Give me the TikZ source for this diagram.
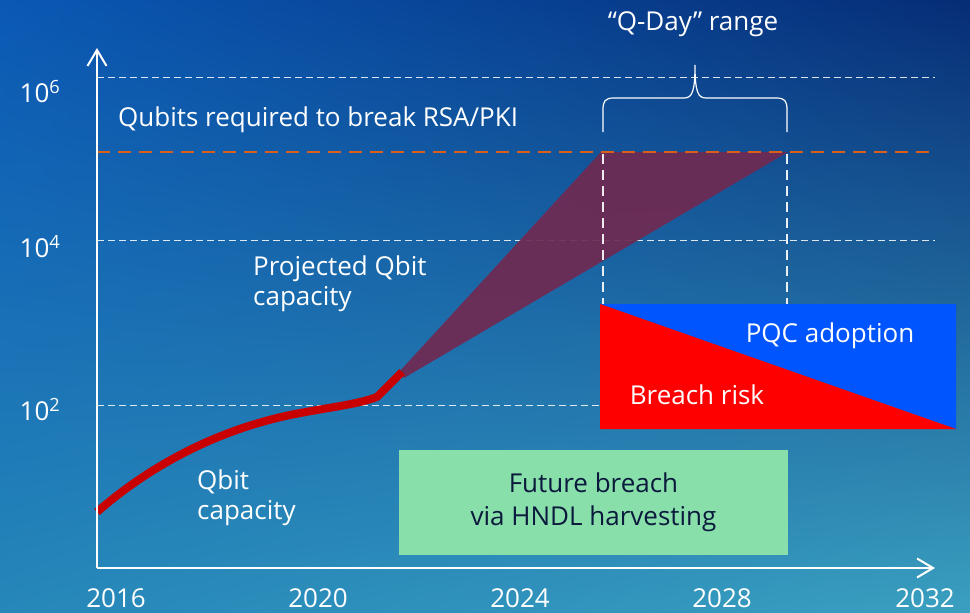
\documentclass[tikz,border=0pt]{standalone}
\usepackage{fontspec}
\setmainfont{Open Sans}
\usetikzlibrary{arrows.meta,shadings}
\definecolor{bgUL}{RGB}{10,88,180}
\definecolor{bgUR}{RGB}{6,45,118}
\definecolor{bgLL}{RGB}{38,135,185}
\definecolor{bgLR}{RGB}{58,160,192}
\definecolor{curvered}{RGB}{200,0,0}
\definecolor{conecol}{RGB}{112,42,82}
\definecolor{orangeline}{RGB}{220,95,25}
\definecolor{pqcblue}{RGB}{0,85,255}
\definecolor{riskred}{RGB}{255,0,0}
\definecolor{hndlgreen}{RGB}{136,223,170}
\definecolor{navytext}{RGB}{10,25,60}
\begin{document}
\begin{tikzpicture}[x=1pt,y=-1pt,
  lbl/.style={text=white,font=\fontsize{26}{30}\selectfont,inner sep=0pt},
  yr/.style={lbl,anchor=center},
  grid/.style={white,opacity=0.85,line width=0.9pt,dash pattern=on 7pt off 4pt},
  vdash/.style={white,opacity=0.9,line width=2pt,dash pattern=on 10pt off 6pt},
  axis/.style={white,line width=2pt,-{Straight Barb[length=16pt,width=19pt,line width=2pt]}},
  boxtext/.style={text=white,font=\fontsize{26}{30}\selectfont,inner sep=0pt}]
% background
\shade[upper left=bgUL,upper right=bgUR,lower left=bgLL,lower right=bgLR] (0,0) rectangle (970,613);
\useasboundingbox (0,0) rectangle (970,613);

% coordinates
\coordinate (origin) at (97,568);
\coordinate (ytop) at (97,48);
\coordinate (xend) at (935,568);
\coordinate (g6a) at (97,77);   \coordinate (g6b) at (935,77);
\coordinate (g4a) at (97,240);  \coordinate (g4b) at (935,240);
\coordinate (g2a) at (97,405);  \coordinate (g2b) at (935,405);
\coordinate (oa) at (97,152);   \coordinate (ob) at (935,152);

% grid lines
\draw[grid] (g6a) -- (g6b);
\draw[grid] (g4a) -- (g4b);
\draw[grid] (g2a) -- (g2b);

% cone
\coordinate (apex) at (399,372);
\coordinate (coneL) at (601,152);
\coordinate (coneR) at (788,152);
\fill[conecol,opacity=0.92] (apex) -- (coneL) -- (coneR) -- (404,378) -- cycle;

% orange threshold line
\draw[orangeline,line width=2.2pt,dash pattern=on 13pt off 8pt] (oa) -- (ob);

% vertical dashed lines
\coordinate (vLt) at (603,154); \coordinate (vLb) at (603,304);
\coordinate (vRt) at (787,154); \coordinate (vRb) at (787,304);
\draw[vdash] (vLt) -- (vLb);
\draw[vdash] (vRt) -- (vRb);

% brace
\draw[white,line width=1.2pt]
  (603,132) -- (603,110) .. controls (603,101) and (605,98) .. (614,98)
  -- (684,98) .. controls (692,98) and (695,92) .. (695,65)
  .. controls (695,92) and (698,98) .. (706,98)
  -- (776,98) .. controls (785,98) and (787,101) .. (787,110) -- (787,132);

% PQC / breach box
\coordinate (bTL) at (600,304); \coordinate (bTR) at (956,304);
\coordinate (bBL) at (600,429); \coordinate (bBR) at (956,429);
\fill[pqcblue] (bTL) -- (bTR) -- (bBR) -- cycle;
\fill[riskred] (bTL) -- (bBR) -- (bBL) -- cycle;
\node[boxtext] (pqc) at (830,336) {PQC adoption};
\node[boxtext] (risk) at (697,395) {Breach risk};

% green HNDL box
\node[fill=hndlgreen,minimum width=389pt,minimum height=105pt,inner sep=0pt,
      align=center,text=navytext,font=\fontsize{26}{33}\selectfont] (hndl) at (593.5,502)
      {Future breach\\via HNDL harvesting};

% red curve
\draw[curvered,line width=8pt,line join=round]
  (97,512) .. controls (145,470) and (210,432) .. (290,415)
  .. controls (330,407) and (355,405) .. (377,397) -- (402,372);

% axes
\draw[axis] (origin) -- (ytop);
\draw[axis] (origin) -- (xend);

% y labels
\node[lbl] (l6) at (40,92) {10\textsuperscript{6}};
\node[lbl] (l4) at (40,247) {10\textsuperscript{4}};
\node[lbl] (l2) at (40,410) {10\textsuperscript{2}};

% x labels
\node[yr] (y16) at (116,598) {2016};
\node[yr] (y20) at (318,598) {2020};
\node[yr] (y24) at (520,598) {2024};
\node[yr] (y28) at (722,598) {2028};
\node[yr] (y32) at (925,598) {2032};

% text labels
\node[lbl,anchor=west] (qreq) at (118,120) {Qubits required to break RSA/PKI};
\node[lbl,anchor=center] (qday) at (693,24) {“Q-Day” range};
\node[lbl,anchor=north west,align=left] (proj) at (253,256) {Projected Qbit\\capacity};
\node[lbl,anchor=north west,align=left] (qcap) at (197,470) {Qbit\\capacity};
\end{tikzpicture}
\end{document}
